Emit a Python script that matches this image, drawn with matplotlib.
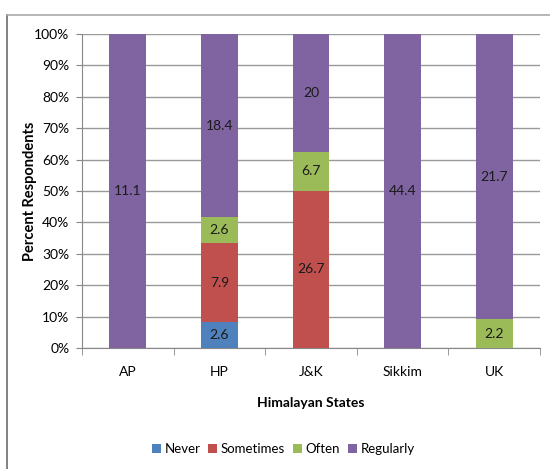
import matplotlib.pyplot as plt
from matplotlib.lines import Line2D
import numpy as np

plt.rcParams['font.family'] = ['Lato', 'DejaVu Sans']

states = ["AP", "HP", "J&K", "Sikkim", "UK"]
never = [0, 2.6, 0, 0, 0]
sometimes = [0, 7.9, 26.7, 0, 0]
often = [0, 2.6, 6.7, 0, 2.2]
regularly = [11.1, 18.4, 20, 44.4, 21.7]

series = [
    ("Never", never, "#4F81BD"),
    ("Sometimes", sometimes, "#C0504D"),
    ("Often", often, "#9BBB59"),
    ("Regularly", regularly, "#8064A2"),
]

totals = np.sum([s[1] for s in series], axis=0)

fig = plt.figure(figsize=(5.5, 4.69), dpi=100)
ax = fig.add_axes([0.149, 0.258, 0.833, 0.6695])

x = np.arange(len(states))
bottom = np.zeros(len(states))
for name, vals, color in series:
    vals = np.array(vals, dtype=float)
    pct = vals / totals * 100
    ax.bar(x, pct, 0.4, bottom=bottom, color=color, label=name, zorder=3)
    for i in range(len(states)):
        if vals[i] > 0:
            ax.text(x[i], bottom[i] + pct[i] / 2, f"{vals[i]:g}", ha="center",
                    va="center", fontsize=10, color="#1a1a1a", zorder=4)
    bottom += pct

ax.set_xlim(-0.5, len(states) - 0.5)
ax.set_ylim(0, 100)
ax.set_yticks(np.arange(0, 101, 10))
ax.set_yticklabels([f"{v}%" for v in range(0, 101, 10)], fontsize=10)
ax.set_xticks(x)
ax.set_xticklabels(states, fontsize=10)
ax.tick_params(axis="x", length=0, pad=13)
ax.tick_params(axis="y", length=4, color="#888888", pad=5)
# small ticks between categories on the x axis
ax.set_xticks(np.arange(-0.5, len(states), 1), minor=True)
ax.tick_params(axis="x", which="minor", length=5, color="#888888")
ax.grid(axis="y", color="#999999", linewidth=1, zorder=0)

for side in ["top", "right"]:
    ax.spines[side].set_visible(False)
ax.spines["left"].set_color("#888888")
ax.spines["bottom"].set_color("#888888")

ax.set_xlabel("Himalayan States", fontsize=10, fontweight="bold", labelpad=14)
ax.set_ylabel("Percent Respondents", fontsize=10.5, fontweight="bold")
ax.yaxis.set_label_coords(-0.098, 0.5)

fig.legend(loc="center", bbox_to_anchor=(0.515, 0.043), ncol=4, frameon=False,
           fontsize=9.5, handlelength=0.7, handleheight=0.7, handletextpad=0.25,
           columnspacing=0.6)

# outer chart border (left and top edges)
fig.add_artist(Line2D([0.0127, 0.0127], [0.0, 0.968], color="#777777", lw=1.3,
                      transform=fig.transFigure))
fig.add_artist(Line2D([0.0127, 1.0], [0.968, 0.968], color="#aaaaaa", lw=1.2,
                      transform=fig.transFigure))

fig.savefig("out.png", dpi=100)
